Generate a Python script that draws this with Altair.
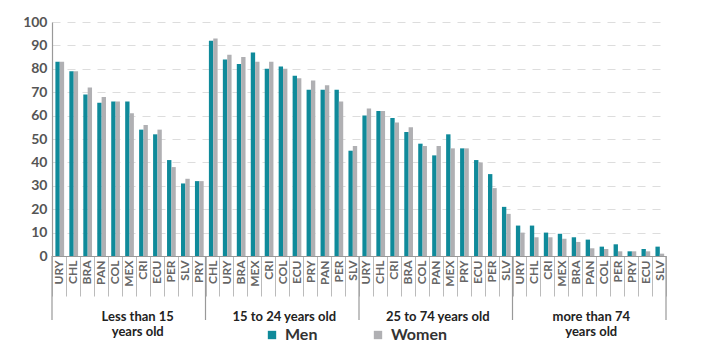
import altair as alt
import pandas as pd

groups = ["Less than 15\nyears old", "15 to 24 years old", "25 to 74 years old", "more than 74\nyears old"]
countries = [
    ["URY", "CHL", "BRA", "PAN", "COL", "MEX", "CRI", "ECU", "PER", "SLV", "PRY"],
    ["CHL", "URY", "BRA", "MEX", "CRI", "COL", "ECU", "PRY", "PAN", "PER", "SLV"],
    ["URY", "CHL", "CRI", "BRA", "COL", "PAN", "MEX", "PRY", "ECU", "PER", "SLV"],
    ["URY", "CHL", "CRI", "MEX", "BRA", "PAN", "COL", "PER", "PRY", "ECU", "SLV"],
]
men = [
    [83, 79, 69, 65.5, 66, 66, 54, 52, 41, 31, 32],
    [92, 84, 82, 87, 80, 81, 77, 71, 71, 71, 45],
    [60, 62, 59, 53, 48, 43, 52, 46, 41, 35, 21],
    [13, 13, 10, 9.5, 8, 7, 4, 5, 2, 3, 4],
]
women = [
    [83, 79, 72, 68, 66, 61, 56, 54, 38, 33, 32],
    [93, 86, 85, 83, 83, 80, 76, 75, 73, 66, 47],
    [63, 62, 57, 55, 47, 47, 46, 46, 40, 29, 18],
    [10, 8, 8, 7.4, 6, 3.3, 3, 2, 2, 2, 1],
]

rows = []
order = []
first_keys, last_keys, mid_keys = [], [], []
for gi, g in enumerate(groups):
    for ci, c in enumerate(countries[gi]):
        key = f"{gi}|{c}"
        order.append(key)
        rows.append({"key": key, "sex": "Men", "value": men[gi][ci]})
        rows.append({"key": key, "sex": "Women", "value": women[gi][ci]})
    first_keys.append(f"{gi}|{countries[gi][0]}")
    last_keys.append(f"{gi}|{countries[gi][-1]}")
    mid_keys.append({"key": f"{gi}|{countries[gi][5]}", "label": g.split("\n")})

df = pd.DataFrame(rows)
W, H = 614, 234
TEAL = "#0f8a9a"
GREY = "#b0b0b3"

xscale = alt.Scale(domain=order, paddingInner=0, paddingOuter=0)

bars = alt.Chart(df).mark_bar().encode(
    x=alt.X("key:N", scale=xscale, sort=order, title=None,
            axis=alt.Axis(labelExpr="split(datum.value, '|')[1]", labelAngle=270,
                          labelAlign="right", labelBaseline="middle", labelPadding=-36,
                          labelFont="Lato", labelFontSize=12, labelFontWeight="bold",
                          labelColor="#666", labelFlush=False,
                          tickBand="extent", tickSize=40, tickColor="#bbb", tickWidth=1,
                          domainColor="#999", domainWidth=1.2, grid=False)),
    xOffset=alt.XOffset("sex:N", scale=alt.Scale(paddingInner=0, paddingOuter=0.6, align=0.65)),
    y=alt.Y("value:Q", scale=alt.Scale(domain=[0, 100], nice=False), title=None,
            axis=alt.Axis(values=list(range(0, 101, 10)), tickSize=0, labelPadding=5,
                          labelFont="Lato", labelFontSize=14, labelFontWeight="bold",
                          labelColor="#555", domainColor="#999", domainWidth=1.2,
                          gridColor="#ddd", gridDash=[8, 7], gridWidth=1)),
    color=alt.Color("sex:N", scale=alt.Scale(domain=["Men", "Women"], range=[TEAL, GREY]),
                    legend=alt.Legend(title=None, orient="none", direction="horizontal",
                                      legendX=212, legendY=305, symbolType="square",
                                      symbolSize=70, symbolStrokeWidth=0, symbolOpacity=1,
                                      labelFont="Lato", labelFontSize=16, labelFontWeight="bold",
                                      labelColor="#333", labelOffset=5, columnPadding=52,
                                      padding=0)),
)

starts = alt.Chart(pd.DataFrame({"key": first_keys})).mark_rule(color="#999", strokeWidth=1.2).encode(
    x=alt.X("key:N", scale=xscale, sort=order, bandPosition=0),
    y=alt.value(H), y2=alt.value(H + 64),
)
ends = alt.Chart(pd.DataFrame({"key": [last_keys[-1]]})).mark_rule(color="#999", strokeWidth=1.2).encode(
    x=alt.X("key:N", scale=xscale, sort=order, bandPosition=1),
    y=alt.value(H), y2=alt.value(H + 64),
)

def group_labels(data, dx):
    return alt.Chart(pd.DataFrame(data)).mark_text(
        font="Lato", fontSize=13, fontWeight="bold", color="#222", baseline="middle",
        lineHeight=15, dx=dx
    ).encode(
        x=alt.X("key:N", scale=xscale, sort=order),
        y=alt.value(H + 61),
        text="label",
    )

labels1 = group_labels(mid_keys[:1], 9)
labels2 = group_labels(mid_keys[1:], 2)

chart = alt.layer(bars, starts, ends, labels1, labels2).properties(
    width=W, height=H,
    autosize=alt.AutoSizeParams(type="none"),
    padding={"left": 44, "top": 14, "right": 40, "bottom": 95},
).configure_view(stroke=None)

chart.save("out.html", embed_options={"renderer": "svg", "actions": False})
